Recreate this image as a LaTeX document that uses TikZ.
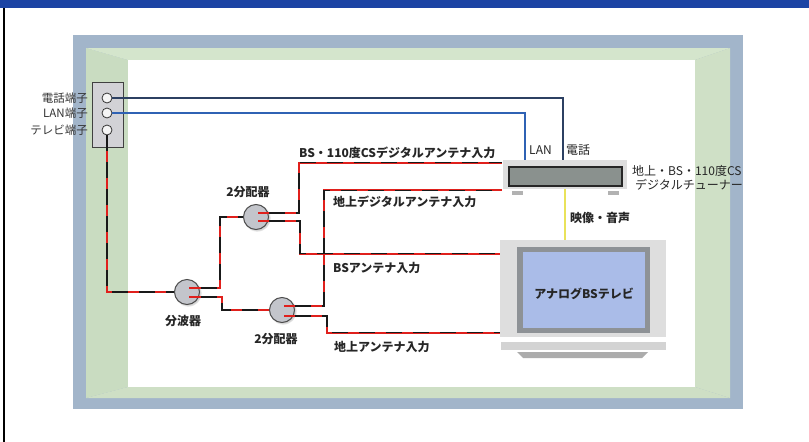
\documentclass[tikz,border=0pt]{standalone}
\usepackage{fontspec}
\setmainfont{Noto Sans CJK JP}
\usetikzlibrary{calc,shadows}

\definecolor{bandblue}{HTML}{1C44A4}
\definecolor{framegray}{HTML}{A2B5CA}
\definecolor{wallL}{HTML}{C9DCC1}
\definecolor{wallT}{HTML}{D4E5CC}
\definecolor{wallR}{HTML}{CFE0C6}
\definecolor{wallB}{HTML}{CEDFC5}
\definecolor{cablered}{HTML}{E0201C}
\definecolor{telnavy}{HTML}{2C4062}
\definecolor{lanblue}{HTML}{2F62B4}
\definecolor{avyellow}{HTML}{E9E25A}
\definecolor{splitgray}{HTML}{C3C5CB}
\definecolor{boxgray}{HTML}{D2D2D6}
\definecolor{bezel}{HTML}{DEDEDE}
\definecolor{tvframe}{HTML}{8E9296}
\definecolor{screenblue}{HTML}{AABCE8}
\definecolor{lcd}{HTML}{8A918E}

\tikzset{
  lbl/.style={font=\fontsize{12}{14}\selectfont\bfseries, text=black!85, inner sep=0pt},
  plainlbl/.style={font=\fontsize{12}{14}\selectfont, text=black!85, inner sep=0pt, anchor=west},
  jacklbl/.style={font=\fontsize{11.5}{13}\selectfont, text=black!80, inner sep=0pt, anchor=east},
  jack/.style={circle, draw=black!80, fill=gray!8, line width=0.8pt, minimum size=10pt, inner sep=0pt},
  splitter/.style={circle, draw=black!70, fill=splitgray, line width=1pt, minimum size=25pt, inner sep=0pt,
    circular drop shadow={shadow xshift=1pt, shadow yshift=-1pt, opacity=0.35}},
  cable/.style={draw=cablered, line width=2.2pt,
    postaction={draw=black!90, line width=1.1pt, dash pattern=on 16pt off 11pt}},
  stub/.style={draw=cablered, line width=1.8pt},
  telline/.style={draw=telnavy, line width=1.6pt},
  lanline/.style={draw=lanblue, line width=1.9pt},
  avline/.style={draw=avyellow, line width=1.6pt},
}

\begin{document}
\begin{tikzpicture}[x=1pt, y=-1pt]
\useasboundingbox (0,0) rectangle (809,442);

% page band and margin rule
\fill[bandblue] (0,0) rectangle (809,8);
\draw[black, line width=1.2pt] (4,8) -- (4,442);

% room in perspective: frame, four walls, back wall
\fill[framegray] (73,35) rectangle (743,409);
\fill[wallL] (86,48) -- (128,60) -- (128,387) -- (86,398) -- cycle;
\fill[wallT] (86,48) -- (730,48) -- (695,60) -- (128,60) -- cycle;
\fill[wallR] (730,48) -- (695,60) -- (695,387) -- (730,398) -- cycle;
\fill[wallB] (86,398) -- (128,387) -- (695,387) -- (730,398) -- cycle;
\fill[white] (128,60) rectangle (695,387);

% wall outlet with three jacks
\node[draw=black!75, fill=boxgray, line width=0.8pt, minimum width=31pt, minimum height=65pt,
      inner sep=0pt] (outlet) at (107.5,114.5) {};
\node[jack] (teljack) at (107,98) {};
\node[jack] (lanjack) at (107,113) {};
\node[jack] (tvjack)  at (107,130) {};
\node[jacklbl] (tellbl) at (88,98)  {電話端子};
\node[jacklbl] (lanlbl) at (88,113) {LAN端子};
\node[jacklbl] (tvlbl)  at (88,130) {テレビ端子};

% digital tuner
\node[fill=bezel, minimum width=124pt, minimum height=29pt, inner sep=0pt] (tuner) at (565,174.5) {};
\fill[lcd] (509,167) rectangle (622,186);
\draw[black!85, line width=1.3pt] (509,167) rectangle (622,186);
\fill[gray!60] (512,191) rectangle (523,195);
\fill[gray!60] (608,191) rectangle (619,195);
\node[plainlbl] (tunerlbl1) at (632,171) {地上・BS・110度CS};
\node[plainlbl] (tunerlbl2) at (635,185) {デジタルチューナー};

% analogue BS television
\node[fill=bezel, minimum width=166pt, minimum height=97pt, inner sep=0pt] (tv) at (583,288.5) {};
\fill[tvframe] (517,247) rectangle (650,333);
\fill[screenblue] (523,252) rectangle (645,328);
\fill[bezel!95!black] (501,342) rectangle (666,350);
\fill[gray!65] (517,352) -- (648,352) -- (642,358) -- (523,358) -- cycle;
\node[lbl] (tvname) at (584,294) {アナログBSテレビ};

% splitters
\node[splitter] (bunpa)  at (187,292) {};
\node[splitter] (split1) at (256,217) {};
\node[splitter] (split2) at (282,310) {};
\node[lbl] (bunpalbl)  at (183,321) {分波器};
\node[lbl] (split1lbl) at (248,192) {2分配器};
\node[lbl] (split2lbl) at (276,339) {2分配器};

% port coordinates
\coordinate (bp-a) at ($(bunpa.center)+(14,-4)$);
\coordinate (bp-b) at ($(bunpa.center)+(14,5)$);
\coordinate (s1-a) at ($(split1.center)+(13,-4)$);
\coordinate (s1-b) at ($(split1.center)+(13,4)$);
\coordinate (s2-a) at ($(split2.center)+(13,-4)$);
\coordinate (s2-b) at ($(split2.center)+(13,6)$);
\coordinate (tuner-bs)  at ($(tuner.north west)+(-1,3)$);
\coordinate (tuner-tr)  at ($(tuner.south west)+(-1,1)$);
\coordinate (tuner-lan) at ($(tuner.north)+(-40,0)$);
\coordinate (tuner-tel) at ($(tuner.north)+(-2,0)$);
\coordinate (tv-bs) at ($(tv.north west)+(0,14)$);
\coordinate (tv-tr) at ($(tv.north west)+(0,93)$);

% coaxial cabling
\draw[cable] (tvjack.south) |- (bunpa.west);
\draw[cable] (bp-a) -- (220,288) |- (split1.west);
\draw[cable] (bp-b) -- (222,297) |- (split2.west);
\draw[cable] (s1-a) -- (299,213) |- (tuner-bs);
\draw[cable] (s1-b) -- (300,221) |- (tv-bs);
\draw[cable] (s2-a) -- (324,306) |- (tuner-tr);
\draw[cable] (s2-b) -- (327,316) |- (tv-tr);

% splitter ports
\draw[stub] ($(bunpa.center)+(2,-4)$) -- (bp-a);
\draw[stub] ($(bunpa.center)+(2,5)$) -- (bp-b);
\draw[stub] ($(split1.center)+(2,-4)$) -- (s1-a);
\draw[stub] ($(split1.center)+(2,4)$) -- (s1-b);
\draw[stub] ($(split2.center)+(2,-4)$) -- (s2-a);
\draw[stub] ($(split2.center)+(2,6)$) -- (s2-b);

% telephone, LAN and AV links
\draw[telline] (teljack.east) -| (tuner-tel);
\draw[lanline] (lanjack.east) -| (tuner-lan);
\draw[avline] (tuner.south) -- (tuner.south |- tv.north);

% cable labels
\node[lbl, anchor=west] (l-bs110) at (299,153) {BS・110度CSデジタルアンテナ入力};
\node[lbl, anchor=west] (l-tdig)  at (333,202) {地上デジタルアンテナ入力};
\node[lbl, anchor=west] (l-bs)    at (333,268) {BSアンテナ入力};
\node[lbl, anchor=west] (l-tr)    at (334,347) {地上アンテナ入力};
\node[plainlbl] (l-lan) at (529,150) {LAN};
\node[plainlbl] (l-tel) at (566,150) {電話};
\node[lbl, anchor=west] (l-av) at (570,218) {映像・音声};
\end{tikzpicture}
\end{document}
